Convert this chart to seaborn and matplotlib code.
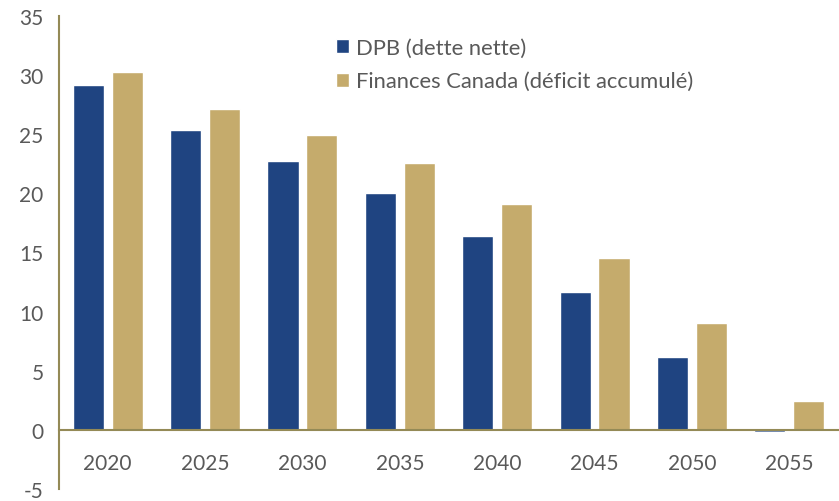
import numpy as np
import pandas as pd
import seaborn as sns
from matplotlib import pyplot as plt

years = ['2020', '2025', '2030', '2035', '2040', '2045', '2050', '2055']
dpb = [29.2, 25.4, 22.7, 20.0, 16.4, 11.7, 6.2, -0.2]
fin_canada = [30.3, 27.1, 24.9, 22.6, 19.1, 14.5, 9.0, 2.4]
series = ['DPB (dette nette)', 'Finances Canada (déficit accumulé)']
colors = ['#1F4481', '#C5AB6C']

df = pd.DataFrame({'Year': years * 2,
                   'Value': dpb + fin_canada,
                   'Series': [series[0]] * len(years) + [series[1]] * len(years)})

sns.set_style('white')
plt.rcParams['font.family'] = ['Lato', 'DejaVu Sans']
plt.rcParams['axes.unicode_minus'] = False
axis_col = '#948A56'
text_col = '#595959'

fig = plt.figure(figsize=(8.39, 5.02), dpi=100)
ax = fig.add_axes([59/839, 12/502, 779/839, 473/502])
sns.barplot(data=df, x='Year', y='Value', hue='Series', palette=colors,
            width=0.8, gap=0.2, saturation=1, ax=ax)

ax.set_ylim(-5, 35)
ax.set_xlim(-0.5, 7.5)
ax.set_yticks(range(-5, 36, 5))
ax.set_xlabel('')
ax.set_ylabel('')

for s in ['top', 'right']:
    ax.spines[s].set_visible(False)
ax.spines['bottom'].set_position(('data', 0))
for s in ['left', 'bottom']:
    ax.spines[s].set_color(axis_col)
    ax.spines[s].set_linewidth(1.5)

# category boundary ticks, labels on the centres
ax.set_xticks(np.arange(-0.5, 8, 1))
ax.set_xticklabels([])
ax.set_xticks(range(len(years)), minor=True)
ax.set_xticklabels(years, minor=True)
ax.tick_params(axis='x', which='major', direction='out', length=5, width=1.5, color=axis_col)
ax.tick_params(axis='x', which='minor', length=0, pad=17, labelsize=15, labelcolor=text_col)
ax.tick_params(axis='y', direction='out', length=5, width=1.5, color=axis_col,
               labelsize=15, labelcolor=text_col, pad=6)

ax.legend(loc='upper left', bbox_to_anchor=(0.33, 0.995), frameon=False, fontsize=15.8,
          handlelength=0.6, handleheight=0.6, handletextpad=0.3, labelspacing=0.6,
          labelcolor=text_col)

plt.savefig('out.png', dpi=100)
